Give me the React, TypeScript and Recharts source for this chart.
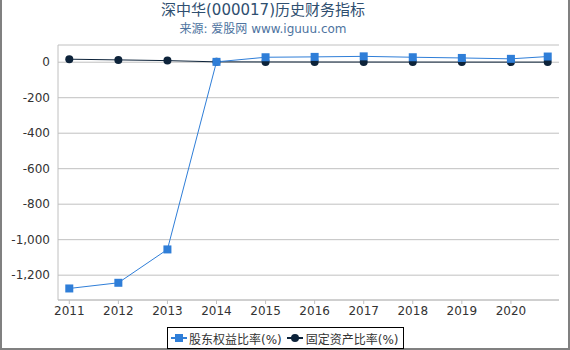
import React from "react"
import { LineChart, Line, XAxis, YAxis, CartesianGrid } from "recharts"

const years = [2011, 2012, 2013, 2014, 2015, 2016, 2017, 2018, 2019, 2020, 2020.75]
const equityRatio = [-1275, -1243, -1055, 2, 28, 30, 33, 28, 24, 19, 32]
const fixedAssetRatio = [17, 13, 9, 2, 1.5, 1.2, 1, 0.8, 0.6, 0.5, 0.5]
const xTicks = [2011, 2012, 2013, 2014, 2015, 2016, 2017, 2018, 2019, 2020]
const yTicks = [-1200, -1000, -800, -600, -400, -200, 0]

const EQUITY_NAME = "股东权益比率(%)"
const FIXED_NAME = "固定资产比率(%)"
const BLUE = "#2f7ed8"
const DARK = "#0d233a"
const FONT = "'DejaVu Sans', 'Noto Sans CJK SC', sans-serif"

const data = years.map((year, i) => ({
  year,
  equity: equityRatio[i],
  fixed: fixedAssetRatio[i],
}))

const SquareDot = (props: any) => {
  const { cx, cy, key } = props
  if (cx == null || cy == null) return <g key={key} />
  return <rect key={key} x={cx - 4} y={cy - 4} width={8} height={8} fill={BLUE} />
}

const CircleDot = (props: any) => {
  const { cx, cy, key } = props
  if (cx == null || cy == null) return <g key={key} />
  return <circle key={key} cx={cx} cy={cy} r={4} fill={DARK} />
}

const LegendBox = () => (
  <div
    style={{
      position: "absolute",
      left: 165,
      top: 327,
      display: "flex",
      alignItems: "center",
      border: "1px solid #000",
      background: "#fff",
      height: 20,
      padding: "0 4px 0 3px",
      fontSize: 12,
      color: "#333",
      whiteSpace: "nowrap",
    }}
  >
    <svg width={16} height={10} style={{ marginRight: 2 }}>
      <line x1={0} y1={5} x2={16} y2={5} stroke={BLUE} strokeWidth={2} />
      <rect x={4} y={1} width={8} height={8} fill={BLUE} />
    </svg>
    <span style={{ marginRight: 5 }}>{EQUITY_NAME}</span>
    <svg width={16} height={10} style={{ marginRight: 3 }}>
      <line x1={0} y1={5} x2={16} y2={5} stroke={DARK} strokeWidth={2} />
      <circle cx={8} cy={5} r={4} fill={DARK} />
    </svg>
    <span>{FIXED_NAME}</span>
  </div>
)

const App = () => {
  return (
    <div
      style={{
        position: "absolute",
        left: 0,
        top: 0,
        width: 570,
        height: 350,
        boxSizing: "border-box",
        borderLeft: "2px solid #808080",
        borderRight: "2px solid #808080",
        borderBottom: "2px solid #808080",
        background: "#fff",
        fontFamily: FONT,
      }}
    >
      <div
        style={{
          position: "absolute",
          left: 0,
          width: 522,
          top: 0,
          textAlign: "center",
          fontSize: 15,
          color: "#2f4f70",
          lineHeight: "20px",
        }}
      >
        深中华(000017)历史财务指标
      </div>
      <div
        style={{
          position: "absolute",
          left: 0,
          width: 522,
          top: 21,
          textAlign: "center",
          fontSize: 12,
          color: "#4d73a0",
          lineHeight: "16px",
        }}
      >
        来源: 爱股网 www.iguuu.com
      </div>
      <LineChart
        width={566}
        height={348}
        data={data}
        margin={{ top: 45, right: 9, left: 6, bottom: 0 }}
        style={{ position: "absolute", left: 0, top: 0 }}
      >
        <CartesianGrid horizontal vertical={false} stroke="#c0c0c0" />
        <XAxis
          dataKey="year"
          type="number"
          domain={[2010.77, 2020.98]}
          ticks={xTicks}
          allowDataOverflow
          height={48}
          axisLine={{ stroke: "#c0c0c0" }}
          tickLine={{ stroke: "#c0c0c0" }}
          tickSize={4}
          tick={{ fill: "#333", fontSize: 12, fontFamily: FONT }}
        />
        <YAxis
          width={50}
          domain={[-1340, 97]}
          ticks={yTicks}
          allowDataOverflow
          axisLine={{ stroke: "#c0c0c0" }}
          tickLine={false}
          tickFormatter={(v: number) => v.toLocaleString("en-US")}
          tick={{ fill: "#333", fontSize: 12, fontFamily: FONT }}
        />
        <Line
          dataKey="fixed"
          name={FIXED_NAME}
          stroke={DARK}
          strokeWidth={1}
          dot={CircleDot}
          isAnimationActive={false}
        />
        <Line
          dataKey="equity"
          name={EQUITY_NAME}
          stroke={BLUE}
          strokeWidth={1}
          dot={SquareDot}
          isAnimationActive={false}
        />
      </LineChart>
      <LegendBox />
    </div>
  )
}

export default App
